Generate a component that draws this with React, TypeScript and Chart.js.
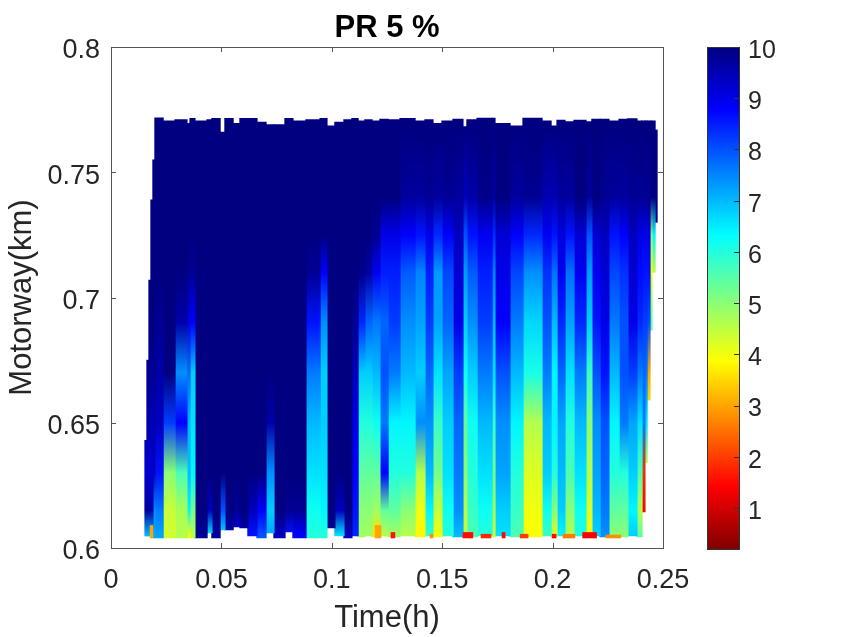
import { useEffect, useRef } from "react";
import { Chart, registerables } from "chart.js";

Chart.register(...registerables);

const FONT = "'Liberation Sans', Arial, sans-serif";
const INK = "#262626";

// axis content
const chartTitle = "PR 5 %";
const xTitle = "Time(h)";
const yTitle = "Motorway(km)";
const xTicks = [0, 0.05, 0.1, 0.15, 0.2, 0.25];
const yTicks = [0.6, 0.65, 0.7, 0.75, 0.8];
const colorbarTicks = [1, 2, 3, 4, 5, 6, 7, 8, 9, 10];
const colorRange = [0.2, 10];

// motorway positions (km) the speed profile of every column is read at
const rows = [0.605, 0.615, 0.63, 0.65, 0.67, 0.69, 0.71, 0.725, 0.74, 0.77];

// column limits in time (h)
const columnEdges = [
  0.0154, 0.0163, 0.0172, 0.0181, 0.019, 0.0199, 0.0236, 0.029, 0.0344, 0.0358, 0.038,
  0.0435, 0.0457, 0.0494, 0.0516, 0.0553, 0.0584, 0.062, 0.0661, 0.0702, 0.0738,
  0.0788, 0.0824, 0.0883, 0.0947, 0.0978, 0.1014, 0.1055, 0.1091, 0.1119, 0.115,
  0.1182, 0.1218, 0.1255, 0.1309, 0.1377, 0.1422, 0.1458, 0.1499, 0.1549, 0.1594,
  0.1612, 0.1658, 0.1726, 0.1739, 0.1807, 0.1866, 0.1952, 0.1993, 0.202, 0.2056,
  0.2097, 0.2151, 0.2178, 0.2215, 0.2255, 0.2301, 0.2341, 0.2382, 0.2405, 0.2418,
  0.2428, 0.2441, 0.245, 0.2464, 0.2473,
];

const columnBottoms = [
  0.6048, 0.6048, 0.6048, 0.6048, 0.604, 0.604, 0.604, 0.604, 0.604, 0.604, 0.604,
  0.606, 0.604, 0.6072, 0.6072, 0.6084, 0.608, 0.6048, 0.604, 0.606, 0.604,
  0.6064, 0.604, 0.604, 0.604, 0.608, 0.6048, 0.604, 0.6048, 0.6044, 0.6048,
  0.6044, 0.6048, 0.6044, 0.6048, 0.6044, 0.6048, 0.6044, 0.6048, 0.6044, 0.6048,
  0.6044, 0.6048, 0.6044, 0.6048, 0.6044, 0.6044, 0.6048, 0.6044, 0.6048, 0.6044,
  0.6048, 0.6044, 0.6048, 0.6044, 0.6048, 0.6044, 0.6048, 0.6044, 0.6144, 0.634,
  0.659, 0.687, 0.71, 0.73,
];

const columnTops = [
  0.643, 0.675, 0.707, 0.739, 0.755, 0.7717, 0.7705, 0.771, 0.7695, 0.7715, 0.7705,
  0.771, 0.7715, 0.766, 0.7715, 0.7695, 0.7715, 0.7715, 0.77, 0.769, 0.769,
  0.7715, 0.7705, 0.771, 0.7715, 0.7685, 0.77, 0.771, 0.7715, 0.7705, 0.771,
  0.7705, 0.7712, 0.771, 0.7715, 0.7705, 0.771, 0.7695, 0.7705, 0.7712, 0.7682,
  0.771, 0.7716, 0.7716, 0.7695, 0.7685, 0.7716, 0.7705, 0.7685, 0.7708, 0.7702,
  0.7708, 0.7702, 0.7712, 0.7712, 0.7705, 0.7712, 0.7714, 0.7705, 0.7705, 0.7705,
  0.7705, 0.7705, 0.7705, 0.7669,
];

// speed per column, one value per entry of rows
const columnValues = [
  [7, 9.7, 9.2, 9.6, 9.8, 10, 10, 10, 10, 10],
  [7, 9.7, 9.2, 9.6, 9.8, 10, 10, 10, 10, 10],
  [7, 9.7, 9.2, 9.5, 9.8, 10, 10, 10, 10, 10],
  [7.1, 9.6, 9.3, 9.5, 9.8, 10, 10, 10, 10, 10],
  [7.1, 7.4, 9.4, 9.5, 9.8, 10, 10, 10, 10, 10],
  [7.2, 7.6, 8.6, 9.4, 9.6, 9.8, 10, 10, 10, 10],
  [4.3, 4.4, 5, 8.2, 10, 10, 10, 10, 10, 10],
  [4.6, 4.7, 5.6, 8.8, 7.4, 9.6, 10, 10, 10, 10],
  [3.9, 6.4, 7, 7, 7.8, 9, 9.8, 10, 10, 10],
  [4.6, 5.2, 6.4, 6.6, 6.8, 8.8, 9.8, 10, 10, 10],
  [9.8, 10, 10, 10, 10, 10, 10, 10, 10, 10],
  [6.5, 9.4, 10, 10, 10, 10, 10, 10, 10, 10],
  [9.7, 10, 10, 10, 10, 10, 10, 10, 10, 10],
  [6.6, 8, 10, 10, 10, 10, 10, 10, 10, 10],
  [9.6, 10, 10, 10, 10, 10, 10, 10, 10, 10],
  [9, 9.8, 10, 10, 10, 10, 10, 10, 10, 10],
  [9.6, 10, 10, 10, 10, 10, 10, 10, 10, 10],
  [8.6, 9.4, 10, 10, 10, 10, 10, 10, 10, 10],
  [8, 8.8, 10, 10, 10, 10, 10, 10, 10, 10],
  [7.2, 6.8, 7.4, 9.6, 10, 10, 10, 10, 10, 10],
  [9.4, 10, 10, 10, 10, 10, 10, 10, 10, 10],
  [8.6, 9.8, 10, 10, 10, 10, 10, 10, 10, 10],
  [8.8, 9.8, 10, 10, 10, 10, 10, 10, 10, 10],
  [6, 6.2, 6.6, 7, 7.6, 8.6, 9.8, 10, 10, 10],
  [6, 6.4, 6.6, 6.8, 6.8, 7.4, 8.8, 10, 10, 10],
  [9.8, 10, 10, 10, 10, 10, 10, 10, 10, 10],
  [6.6, 9.4, 10, 10, 10, 10, 10, 10, 10, 10],
  [9.4, 10, 10, 10, 10, 10, 10, 10, 10, 10],
  [8.4, 8.6, 8.8, 9, 9.4, 9.8, 10, 10, 10, 10],
  [4.8, 5, 5.4, 6, 6.8, 8.4, 9.9, 10, 10, 10],
  [4.8, 5, 5.4, 6, 6.8, 7.8, 9.6, 10, 10, 10],
  [3.6, 4.8, 5.4, 6.2, 7, 7.6, 8.9, 9.8, 10, 10],
  [4.6, 5.4, 8.8, 7.6, 8, 7.8, 8.5, 9, 10, 10],
  [4.8, 5.4, 6, 6.4, 7.6, 8.2, 8.5, 9, 10, 10],
  [4.6, 5, 6, 6.4, 7, 7.4, 7.9, 8.8, 9.7, 10],
  [3.8, 4, 4.6, 7.4, 6.8, 7.2, 7.5, 8.6, 9.7, 10],
  [5.8, 6.4, 7, 7.4, 7.8, 8.2, 8.5, 9, 9.8, 10],
  [4, 4.4, 5.2, 5.8, 6.6, 7.2, 7.3, 8.4, 9.7, 10],
  [6, 6.2, 6.6, 6.8, 7.2, 7.8, 8.1, 8.8, 9.8, 10],
  [7, 7.4, 7.6, 7.8, 8.2, 9, 9.2, 9.4, 9.7, 10],
  [4.4, 4.6, 5, 5.4, 6.2, 6.8, 7.3, 8, 9.4, 10],
  [5.6, 5.8, 6, 6.2, 6.8, 7.4, 7.9, 8.6, 9.6, 10],
  [6, 6.2, 6.6, 7, 7.6, 8.2, 8.5, 8.9, 9.9, 10],
  [4.2, 4.6, 5.2, 5.8, 6.6, 7, 7.5, 8.4, 9.6, 10],
  [6.6, 6.8, 7.2, 7.4, 8, 8.8, 9, 9.2, 10, 10],
  [5.6, 5.8, 6, 6.4, 7, 7.6, 8.1, 8.8, 9.7, 10],
  [3.9, 4, 4.2, 4.6, 6.1, 6.7, 7.4, 8.4, 9.8, 10],
  [5.8, 6.2, 6.8, 7, 7.6, 8, 8.3, 8.9, 9.5, 10],
  [4.2, 5, 6, 6.4, 6.4, 7, 7.7, 8.6, 9.5, 10],
  [6.4, 6.8, 7, 7.2, 7.8, 8.4, 8.9, 9.1, 9.7, 10],
  [4.6, 5, 5.6, 6, 6.6, 7.2, 7.7, 8.6, 9.7, 10],
  [6, 6.2, 6.6, 7, 7.6, 8.4, 8.9, 9.2, 10, 10],
  [3.9, 4.2, 4.6, 5, 5.8, 6.8, 7.3, 8, 9.7, 10],
  [6.8, 7, 7.2, 7.4, 8, 8.6, 8.9, 9.2, 10, 10],
  [7.4, 7.6, 7.8, 8, 8.6, 9, 9.2, 9.4, 9.8, 10],
  [5, 5.4, 6, 6.4, 7, 7.6, 8.1, 8.6, 9.7, 10],
  [5, 5.4, 6, 7.6, 8, 8, 8.3, 8.8, 9.7, 10],
  [6.8, 6.4, 6.8, 7.2, 8.2, 9, 9.2, 9.4, 9.8, 10],
  [5.4, 4.6, 5.6, 6.6, 7.6, 8.4, 8.7, 9, 9.8, 10],
  [1.2, 1.4, 1.8, 7.6, 7.8, 8.2, 8.6, 9, 9.8, 10],
  [5, 5, 4, 6.6, 7.6, 8.2, 8.6, 9, 9.8, 10],
  [5, 5, 5, 4, 3, 8, 8.6, 9, 9.8, 10],
  [5, 5, 5, 5, 5, 5.4, 4, 5, 10, 10],
  [5, 5, 5, 5, 5, 5, 4.5, 6.4, 10, 10],
  [5, 5, 5, 5, 5, 5, 6, 9.8, 10, 10],
];

// slow spots right at the bottom of the road
const spotStarts = [0.0177, 0.1196, 0.1268, 0.1445, 0.1594, 0.1676, 0.1771, 0.1853, 0.1998, 0.2047, 0.2136, 0.2241];
const spotEnds = [0.019, 0.1223, 0.1286, 0.1458, 0.1639, 0.1721, 0.1785, 0.1889, 0.2016, 0.2101, 0.2199, 0.2309];
const spotTops = [0.609, 0.609, 0.6062, 0.6055, 0.6062, 0.6055, 0.6062, 0.6055, 0.6055, 0.6055, 0.6062, 0.6052];
const spotValues = [3, 3, 1.6, 2.8, 1.5, 1.8, 1.5, 2, 1.5, 2.6, 1.4, 2.8];

const jet = (value: number) => {
  const s = 1 - Math.min(1, Math.max(0, (value - colorRange[0]) / (colorRange[1] - colorRange[0])));
  const c = (k: number) => Math.round(255 * Math.min(1, Math.max(0, 1.5 - Math.abs(4 * s - k))));
  return `rgb(${c(3)},${c(2)},${c(1)})`;
};

// inward ticks and the box, like the reference axes
const boxPlugin = {
  id: "box",
  afterDraw(chart: any, _args: any, opts: any) {
    const { ctx, chartArea: a, scales } = chart;
    ctx.save();
    ctx.strokeStyle = opts.color;
    ctx.lineWidth = 1;
    ctx.strokeRect(a.left + 0.5, a.top + 0.5, a.right - a.left, a.bottom - a.top);
    ctx.beginPath();
    if (opts.xTicks) {
      for (const t of opts.xTicks) {
        const x = Math.round(scales.x.getPixelForValue(t)) + 0.5;
        ctx.moveTo(x, a.bottom);
        ctx.lineTo(x, a.bottom - 5);
        ctx.moveTo(x, a.top);
        ctx.lineTo(x, a.top + 5);
      }
    }
    for (const t of opts.yTicks) {
      const y = Math.round(scales.y.getPixelForValue(t)) + 0.5;
      ctx.moveTo(a.right, y);
      ctx.lineTo(a.right - 5, y);
      if (opts.xTicks) {
        ctx.moveTo(a.left, y);
        ctx.lineTo(a.left + 5, y);
      }
    }
    ctx.stroke();
    ctx.restore();
  },
};

// the title is centred on the plot, not on the canvas
const titlePlugin = {
  id: "plotTitle",
  afterDraw(chart: any) {
    const { ctx, chartArea: a } = chart;
    ctx.save();
    ctx.font = `bold 31px ${FONT}`;
    ctx.fillStyle = "#000";
    ctx.textAlign = "center";
    ctx.textBaseline = "alphabetic";
    ctx.fillText(chartTitle, (a.left + a.right) / 2, 37);
    ctx.restore();
  },
};

// the scale has no pixels yet on the first pass of the options
const scaleGradient = (chart: any, from: number, to: number) => {
  const { ctx, scales } = chart;
  if (!scales.y) return null;
  const y0 = scales.y.getPixelForValue(from);
  const y1 = scales.y.getPixelForValue(to);
  if (!Number.isFinite(y0) || !Number.isFinite(y1)) return null;
  return ctx.createLinearGradient(0, y0, 0, y1);
};

const columnGradient = (values: number[]) => (context: any) => {
  const gradient = scaleGradient(context.chart, rows[0], rows[rows.length - 1]);
  if (!gradient) return jet(values[0]);
  values.forEach((v, i) => {
    gradient.addColorStop((rows[i] - rows[0]) / (rows[rows.length - 1] - rows[0]), jet(v));
  });
  return gradient;
};

const App = () => {
  const mainRef = useRef<HTMLCanvasElement | null>(null);
  const barRef = useRef<HTMLCanvasElement | null>(null);

  useEffect(() => {
    if (!mainRef.current || !barRef.current) return;

    const plotWidth = 552;
    const tickFont = { family: FONT, size: 27 };

    const columns = columnValues.map((values, i) => ({
      type: "bar" as const,
      data: [{ x: (columnEdges[i] + columnEdges[i + 1]) / 2, y: [columnBottoms[i], columnTops[i]] }],
      barThickness: (columnEdges[i + 1] - columnEdges[i]) * (plotWidth / 0.25) + 0.6,
      backgroundColor: columnGradient(values),
      grouped: false,
      borderWidth: 0,
    }));

    const spots = spotValues.map((value, i) => ({
      type: "bar" as const,
      data: [{ x: (spotStarts[i] + spotEnds[i]) / 2, y: [0.604, spotTops[i]] }],
      barThickness: (spotEnds[i] - spotStarts[i]) * (plotWidth / 0.25),
      backgroundColor: jet(value),
      grouped: false,
      borderWidth: 0,
    }));

    const main = new Chart(mainRef.current, {
      type: "bar",
      data: { datasets: [...spots, ...columns] as any },
      plugins: [boxPlugin, titlePlugin],
      options: {
        responsive: false,
        animation: false,
        devicePixelRatio: 1,
        layout: { padding: { top: 47, right: 187, left: 0, bottom: 0 } },
        scales: {
          x: {
            type: "linear",
            min: 0,
            max: 0.25,
            offset: false,
            grid: { display: false, offset: false },
            border: { display: false },
            afterBuildTicks: (s: any) => { s.ticks = xTicks.map((value) => ({ value })); },
            afterFit: (s: any) => { s.height = 89; },
            ticks: {
              font: tickFont,
              color: INK,
              padding: 8,
              maxRotation: 0,
              autoSkip: false,
              callback: (v: any) => String(v),
            },
            title: { display: true, text: xTitle, color: INK, font: { family: FONT, size: 31 }, padding: { top: 0, bottom: 0 } },
          },
          y: {
            type: "linear",
            min: 0.6,
            max: 0.8,
            grid: { display: false },
            border: { display: false },
            afterBuildTicks: (s: any) => { s.ticks = yTicks.map((value) => ({ value })); },
            afterFit: (s: any) => { s.width = 111; },
            ticks: {
              font: tickFont,
              color: INK,
              padding: 3,
              labelOffset: 4,
              autoSkip: false,
              callback: (v: any) => String(v),
            },
            title: { display: true, text: yTitle, color: INK, font: { family: FONT, size: 31 }, padding: { top: 4, bottom: 0 } },
          },
        },
        plugins: {
          legend: { display: false },
          tooltip: { enabled: false },
          box: { color: "#555555", xTicks, yTicks },
        } as any,
      },
    });

    const bar = new Chart(barRef.current, {
      type: "bar",
      data: {
        labels: ["speed"],
        datasets: [
          {
            data: [colorRange as any],
            barPercentage: 1,
            categoryPercentage: 1,
            borderWidth: 0,
            backgroundColor: (context: any) => {
              const gradient = scaleGradient(context.chart, colorRange[0], colorRange[1]);
              if (!gradient) return jet(5);
              for (let i = 0; i <= 8; i++) {
                gradient.addColorStop(i / 8, jet(colorRange[0] + (i / 8) * (colorRange[1] - colorRange[0])));
              }
              return gradient;
            },
          },
        ],
      },
      plugins: [boxPlugin],
      options: {
        responsive: false,
        animation: false,
        devicePixelRatio: 1,
        layout: { padding: { top: 47, left: 707, right: 0, bottom: 88 } },
        scales: {
          x: { display: false },
          y: {
            position: "right",
            type: "linear",
            min: colorRange[0],
            max: colorRange[1],
            grid: { display: false },
            border: { display: false },
            afterBuildTicks: (s: any) => { s.ticks = colorbarTicks.map((value) => ({ value })); },
            afterFit: (s: any) => { s.width = 111; },
            ticks: {
              font: { family: FONT, size: 25 },
              color: INK,
              padding: 1,
              labelOffset: 4,
              autoSkip: false,
              callback: (v: any) => String(v),
            },
          },
        },
        plugins: {
          legend: { display: false },
          tooltip: { enabled: false },
          box: { color: "#333333", yTicks: colorbarTicks },
        } as any,
      },
    });

    return () => {
      main.destroy();
      bar.destroy();
    };
  }, []);

  return (
    <div style={{ position: "absolute", left: 0, top: 0, width: 850, height: 637, background: "#fff" }}>
      <canvas ref={mainRef} width={850} height={637} style={{ position: "absolute", left: 0, top: 0 }} />
      <canvas ref={barRef} width={850} height={637} style={{ position: "absolute", left: 0, top: 0 }} />
    </div>
  );
};

export default App;
